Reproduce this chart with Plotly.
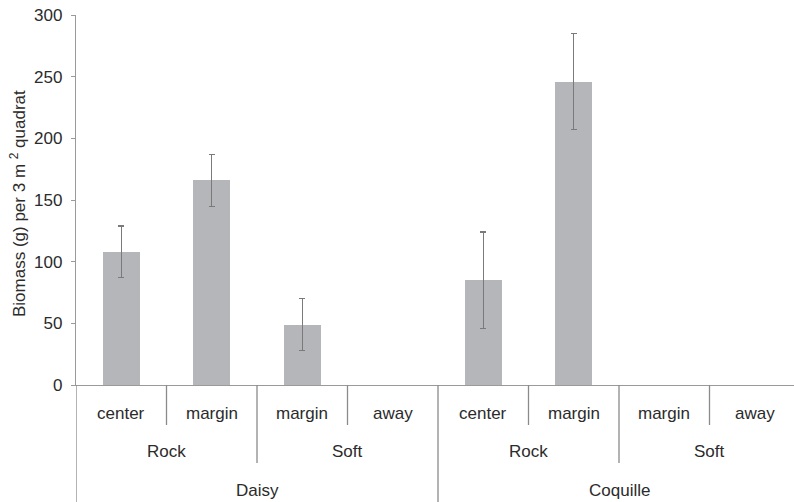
import plotly.graph_objects as go

# ---- data ----
sites = ["Daisy", "Daisy", "Daisy", "Daisy", "Coquille", "Coquille", "Coquille", "Coquille"]
substrates = ["Rock", "Rock", "Soft", "Soft", "Rock", "Rock", "Soft", "Soft"]
positions = ["center", "margin", "margin", "away", "center", "margin", "margin", "away"]
biomass = [108, 166, 49, None, 85, 246, None, None]
biomass_err = [21, 21, 21, None, 39, 39, None, None]
y_ticks = [0, 50, 100, 150, 200, 250, 300]

FONT = "Liberation Sans, Arial, sans-serif"
TXT = "#2b2b2b"
AX = "#9a9a9a"
FS = 17

xs = list(range(len(positions)))

fig = go.Figure()
fig.add_trace(go.Bar(
    x=xs, y=biomass, width=0.41,
    marker=dict(color="#b5b6ba", line=dict(width=0)),
    error_y=dict(type="data", array=biomass_err, visible=True,
                 color="#7a7a7a", thickness=1.3, width=3),
    showlegend=False, hoverinfo="skip",
))

# multi-level category labels (pixel -> paper coordinate)
def py(pix):
    return (385 - pix) / 370.0

ann = []
for i, p in enumerate(positions):
    ann.append(dict(x=i, y=py(413), xref="x", yref="paper", text=p, showarrow=False,
                    font=dict(family=FONT, size=FS, color=TXT), xanchor="center", yanchor="middle"))

def groups(labels, parent=None):
    out = []
    start = 0
    for i in range(1, len(labels) + 1):
        if (i == len(labels) or labels[i] != labels[start]
                or (parent is not None and parent[i] != parent[start])):
            out.append((start, i - 1, labels[start]))
            start = i
    return out

for s, e, lab in groups(substrates, sites):
    ann.append(dict(x=(s + e) / 2, y=py(451), xref="x", yref="paper", text=lab, showarrow=False,
                    font=dict(family=FONT, size=FS, color=TXT), xanchor="center", yanchor="middle"))
for s, e, lab in groups(sites):
    ann.append(dict(x=(s + e) / 2, y=py(490), xref="x", yref="paper", text=lab, showarrow=False,
                    font=dict(family=FONT, size=FS, color=TXT), xanchor="center", yanchor="middle"))

# y-axis title
ann.append(dict(x=(18 - 76) / 718.0, y=py(204), xref="paper", yref="paper",
                text="Biomass (g) per 3 m <sup>2</sup> quadrat", textangle=-90, showarrow=False,
                font=dict(family=FONT, size=FS, color=TXT), xanchor="center", yanchor="middle"))

shapes = []
for i in range(len(positions)):
    b = i - 0.5
    if i == 0 or sites[i] != sites[i - 1]:
        y1 = py(502)
    elif substrates[i] != substrates[i - 1]:
        y1 = py(463)
    else:
        y1 = py(425)
    shapes.append(dict(type="line", xref="x", yref="paper", x0=b, x1=b, y0=0, y1=y1,
                       line=dict(color="#8a8a8a", width=1.3)))

fig.update_layout(
    width=794, height=502,
    margin=dict(l=76, r=0, t=15, b=117),
    paper_bgcolor="white", plot_bgcolor="white",
    bargap=0,
    xaxis=dict(range=[-0.5, -0.5 + 718 / 90.5], showticklabels=False, ticks="",
               showgrid=False, zeroline=False, showline=True, linecolor=AX, linewidth=1.3),
    yaxis=dict(range=[0, 300], tickvals=y_ticks, showgrid=False, zeroline=False,
               showline=True, linecolor=AX, linewidth=1.3, ticks="outside", ticklen=4,
               tickcolor=AX, ticklabelstandoff=5,
               tickfont=dict(family=FONT, size=FS, color=TXT)),
    annotations=ann, shapes=shapes,
)

fig.write_html("out.html", config={"displayModeBar": False},
               post_script="document.body.style.margin='0';document.body.style.overflow='hidden';")
